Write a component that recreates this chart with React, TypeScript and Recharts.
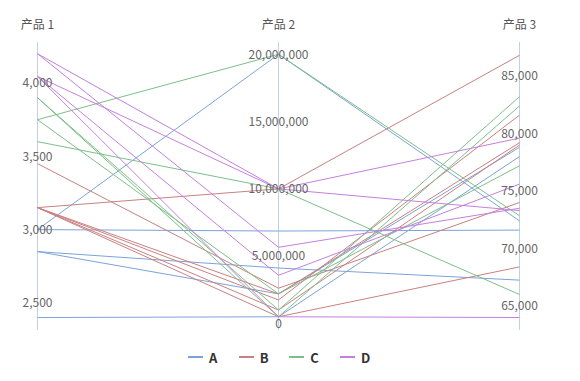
import { LineChart, Line, XAxis, YAxis, ReferenceLine, ReferenceDot, Legend } from 'recharts';

const dims = ['产品 1', '产品 2', '产品 3'];
const groups = ['A', 'B', 'C', 'D'];
const colors = ['#7ba3d8', '#c98080', '#7dbf88', '#c480dc'];

// one row per line: [产品 1, 产品 2, 产品 3]
const rowsA = [
  [3000, 20000000, 72400],
  [3000, 6870000, 71600],
  [2850, 4120000, 67250],
  [2850, 2200000, 78800],
  [2400, 500000, 78000],
];
const rowsB = [
  [3450, 2620000, 74000],
  [3150, 10000000, 86800],
  [3150, 2200000, 79200],
  [3150, 1750000, 81600],
  [3150, 1000000, 79000],
  [3150, 500000, 68400],
];
const rowsC = [
  [3750, 20000000, 72850],
  [3600, 10000000, 66000],
  [3900, 1000000, 83200],
  [3900, 500000, 82400],
  [3750, 2200000, 77200],
];
const rowsD = [
  [4200, 10000000, 73300],
  [4200, 5660000, 73500],
  [4045, 10000000, 79600],
  [4045, 3580000, 75600],
  [4045, 500000, 64000],
];

const ticks1 = [2500, 3000, 3500, 4000];
const ticks2 = [0, 5000000, 10000000, 15000000, 20000000];
const ticks3 = [65000, 70000, 75000, 80000, 85000];

// axis extents per dimension (data is padded a little at both ends)
const domains: [number, number][] = [
  [2315, 4280],
  [-483000, 20913000],
  [62913, 87957],
];

const tickSets = [ticks1, ticks2, ticks3];
const seriesRows = [rowsA, rowsB, rowsC, rowsD];
const lines = seriesRows.flatMap((rows, g) =>
  rows.map((r, i) => ({ key: `${groups[g]}${i}`, g, r }))
);

// each dimension has its own scale, so values are brought to 0..1 on a shared axis
const data = dims.map((dim, d) => {
  const row: Record<string, any> = { dim };
  const [lo, hi] = domains[d];
  lines.forEach((l) => {
    row[l.key] = (l.r[d] - lo) / (hi - lo);
  });
  return row;
});

const fmt = (v: number) => v.toLocaleString('en-US');

const LegendBox = () => (
  <div style={{ position: 'relative', height: 20 }}>
    {groups.map((g, i) => (
      <div
        key={g}
        style={{ position: 'absolute', left: 188 + i * 50.67, top: 0, height: 20, display: 'flex', alignItems: 'center' }}
      >
        <span style={{ display: 'inline-block', width: 15, height: 2, background: colors[i] }} />
        <span style={{ marginLeft: 6, fontWeight: 'bold', fontSize: 13, color: '#333' }}>{g}</span>
      </div>
    ))}
  </div>
);

export default function App() {
  return (
    <div
      style={{
        position: 'absolute',
        left: 0,
        top: 0,
        width: 580,
        height: 381,
        background: '#fff',
        fontFamily: '"Noto Sans CJK SC", "Noto Sans", sans-serif',
      }}
    >
      <LineChart width={580} height={381} data={data} margin={{ top: 42, right: 60.5, bottom: 51, left: 37.5 }}>
        <XAxis dataKey="dim" type="category" hide />
        <YAxis yAxisId="n" type="number" domain={[0, 1]} hide />
        {dims.map((d, i) => (
          <YAxis key={d} yAxisId={`p${i}`} type="number" domain={domains[i]} allowDataOverflow hide />
        ))}
        {dims.map((d) => (
          <ReferenceLine
            key={d}
            yAxisId="n"
            x={d}
            stroke="#c3cfe4"
            strokeWidth={1}
            label={{ value: d, position: 'top', offset: 13, fill: '#555', fontSize: 12 }}
          />
        ))}
        {lines.map((l) => (
          <Line
            key={l.key}
            dataKey={l.key}
            yAxisId="n"
            type="linear"
            stroke={colors[l.g]}
            strokeWidth={1}
            dot={false}
            activeDot={false}
            legendType="none"
            isAnimationActive={false}
          />
        ))}
        {tickSets.flatMap((ts, i) =>
          ts.map((t) => (
            <ReferenceDot
              key={`${i}-${t}`}
              yAxisId={`p${i}`}
              x={dims[i]}
              y={t}
              r={0}
              fill="none"
              stroke="none"
              label={{ value: fmt(t), position: 'center', fill: '#666', fontSize: 12 }}
            />
          ))
        )}
        <Legend
          layout="horizontal"
          verticalAlign="middle"
          align="center"
          wrapperStyle={{ left: 0, top: 347, width: 580, height: 20 }}
          content={() => <LegendBox />}
        />
      </LineChart>
    </div>
  );
}
